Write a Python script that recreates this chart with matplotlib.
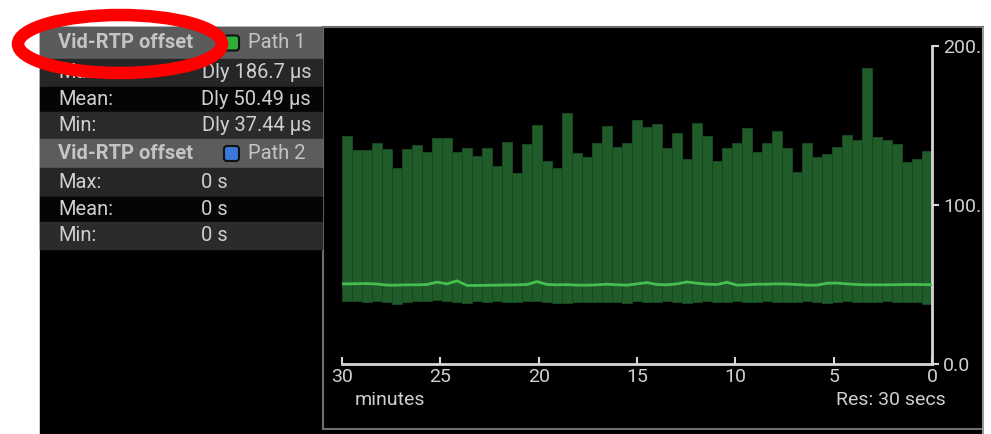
import numpy as np
import matplotlib
matplotlib.use("Agg")
import matplotlib.pyplot as plt
from matplotlib.patches import Rectangle, Ellipse, FancyBboxPatch

# per-bin max offset (us), oldest bin first (30 min -> 0 min)
bin_max = [143.4, 134.6, 134.6, 139.2, 135.0, 123.5, 135.0, 137.5, 133.3, 142.0,
           142.3, 133.3, 136.0, 130.8, 136.0, 124.5, 139.6, 119.9, 138.2, 150.3,
           127.7, 123.5, 157.7, 132.9, 130.2, 138.8, 149.7, 136.3, 139.2, 153.5,
           148.9, 150.8, 136.0, 145.1, 128.9, 151.4, 143.4, 127.7, 135.7, 138.8,
           148.2, 133.1, 139.2, 146.5, 136.0, 120.6, 138.8, 130.4, 131.9, 136.3,
           143.8, 140.9, 186.0, 143.0, 140.7, 138.4, 126.9, 128.7, 134.2]
bin_min = [39.8, 39.6, 39.2, 39.6, 38.8, 37.5, 39.2, 39.6, 39.6, 40.3,
           39.6, 39.2, 38.4, 39.8, 39.2, 39.6, 39.2, 39.2, 39.6, 39.8,
           39.2, 38.4, 38.2, 39.2, 38.8, 39.2, 39.2, 38.8, 38.4, 39.6,
           39.2, 38.8, 39.6, 39.2, 38.4, 39.2, 39.6, 38.8, 39.2, 39.6,
           39.2, 38.8, 39.6, 39.2, 39.2, 38.8, 39.6, 39.2, 38.4, 39.2,
           39.6, 39.2, 38.8, 39.2, 39.6, 39.2, 38.8, 39.2, 37.6]
bin_mean = [50.4, 50.5, 50.6, 50.3, 49.6, 49.6, 49.8, 49.8, 50.0, 51.5,
            50.4, 52.3, 49.4, 49.4, 49.5, 49.6, 49.7, 49.8, 50.0, 51.8,
            50.0, 49.8, 49.9, 49.6, 49.6, 49.8, 50.2, 49.8, 49.6, 50.4,
            51.2, 50.0, 49.8, 50.4, 51.6, 50.8, 50.2, 50.0, 51.4, 49.6,
            49.8, 50.2, 50.2, 50.4, 50.3, 50.0, 49.6, 49.6, 50.8, 50.9,
            50.4, 50.0, 49.8, 49.8, 49.8, 49.9, 50.0, 50.0, 49.9]

x_ticks = [30, 25, 20, 15, 10, 5, 0]
y_ticks = [0, 100, 200]
y_tick_labels = ["0.0", "100.0", "200.0"]

header_title = "Vid-RTP offset"
path_names = ["Path 1", "Path 2"]
stat_names = ["Max:", "Mean:", "Min:"]
path1_stats = ["Dly 186.7 µs", "Dly 50.49 µs", "Dly 37.44 µs"]
path2_stats = ["0 s", "0 s", "0 s"]

W, H = 991, 434
fig = plt.figure(figsize=(W / 100, H / 100), dpi=100, facecolor="white")

# background / table layer in pixel coords
bg = fig.add_axes([0, 0, 1, 1])
bg.set_xlim(0, W)
bg.set_ylim(H, 0)
bg.axis("off")

txt_font = ["Roboto", "DejaVu Sans"]
narrow = ["Liberation Sans Narrow", "Roboto", "DejaVu Sans"]

bg.add_patch(Rectangle((40, 27), 944, H - 27, color="black"))
# chart frame
bg.add_patch(Rectangle((323, 27), 660, 402, facecolor="none",
                       edgecolor="#6e6e6e", lw=1.5))

row_tops = [27, 59, 87, 112, 139, 168, 197, 222, 249]
row_cols = ["#5b5b5b", "#262626", "#050505", "#2b2b2b",
            "#5c5c5c", "#262626", "#050505", "#2b2b2b"]
for k in range(8):
    bg.add_patch(Rectangle((40, row_tops[k]), 282, row_tops[k + 1] - row_tops[k],
                           color=row_cols[k]))

marker_cols = ["#2fae3a", "#3b78d8"]
for p in range(2):
    top = row_tops[p * 4]
    yc = (top + row_tops[p * 4 + 1]) / 2
    bg.text(58, yc, header_title, color="#c4c4c4", fontsize=14.5,
            fontweight="bold", family=txt_font, va="center", ha="left")
    bg.add_patch(FancyBboxPatch((224, yc - 7.5), 15, 15,
                                boxstyle="round,pad=0,rounding_size=3",
                                facecolor=marker_cols[p], edgecolor="#111111", lw=1.5))
    bg.text(248, yc, path_names[p], color="#c4c4c4", fontsize=14.5,
            family=txt_font, va="center", ha="left")
    vals = path1_stats if p == 0 else path2_stats
    for r in range(3):
        y0 = row_tops[p * 4 + 1 + r]
        y1 = row_tops[p * 4 + 2 + r]
        yc = (y0 + y1) / 2
        bg.text(58, yc, stat_names[r], color="#cfcfcf", fontsize=14.5,
                family=txt_font, va="center", ha="left")
        if p == 0:
            bg.text(311, yc, vals[r], color="#cfcfcf", fontsize=14.5,
                    family=txt_font, va="center", ha="right")
        else:
            bg.text(201, yc, vals[r], color="#cfcfcf", fontsize=14.5,
                    family=txt_font, va="center", ha="left")

# red highlight ring
bg.add_patch(Ellipse((120, 44), 204, 58, facecolor="none", edgecolor="#ff0000",
                     lw=9, zorder=5))

# chart axes
ax = fig.add_axes([342 / W, 1 - 364 / H, 590 / W, 318 / H], facecolor="none")
n = len(bin_max)
w = 30.0 / n
centers = 30 - (np.arange(n) + 0.5) * w
tops = np.array(bin_max)
bots = np.array(bin_min)
ax.bar(centers, tops - bots, bottom=bots, width=w, color="#1f5c29",
       edgecolor="#17481f", linewidth=0.7, zorder=2)
line_x = np.concatenate([[30], centers, [0]])
line_y = np.concatenate([[bin_mean[0]], bin_mean, [bin_mean[-1]]])
ax.plot(line_x, line_y, color="#45c04f", lw=2, zorder=3)

ax.set_xlim(30, 0)
ax.set_ylim(0, 200)
for s in ["top", "left"]:
    ax.spines[s].set_visible(False)
for s in ["bottom", "right"]:
    ax.spines[s].set_color("#d6d6d6")
    ax.spines[s].set_linewidth(2)
ax.yaxis.tick_right()
ax.set_xticks(x_ticks)
ax.set_xticklabels([str(t) for t in x_ticks])
ax.set_yticks(y_ticks)
ax.set_yticklabels(y_tick_labels)
ax.tick_params(axis="x", direction="in", length=5, width=1.5, colors="#d6d6d6",
               labelcolor="#cfcfcf", labelsize=14, pad=3)
ax.tick_params(axis="y", direction="out", length=5, width=1.5, colors="#d6d6d6",
               labelcolor="#cfcfcf", labelsize=14, pad=3)
for lab in ax.get_xticklabels() + ax.get_yticklabels():
    lab.set_family(narrow)

bg.text(355, 400, "minutes", color="#cfcfcf", fontsize=14, family=narrow,
        va="center", ha="left")
bg.text(946, 400, "Res: 30 secs", color="#cfcfcf", fontsize=14, family=narrow,
        va="center", ha="right")

# clip right edge of the panel
fig.patches.append(Rectangle((984 / W, 0), 7 / W, 1, transform=fig.transFigure,
                             facecolor="white", edgecolor="none", zorder=10))
fig.patches.append(Rectangle((982 / W, 0), 2 / W, 1 - 27 / H, transform=fig.transFigure,
                             facecolor="#9a9a9a", edgecolor="none", zorder=10))

fig.savefig("out.png", dpi=100, facecolor="white")
